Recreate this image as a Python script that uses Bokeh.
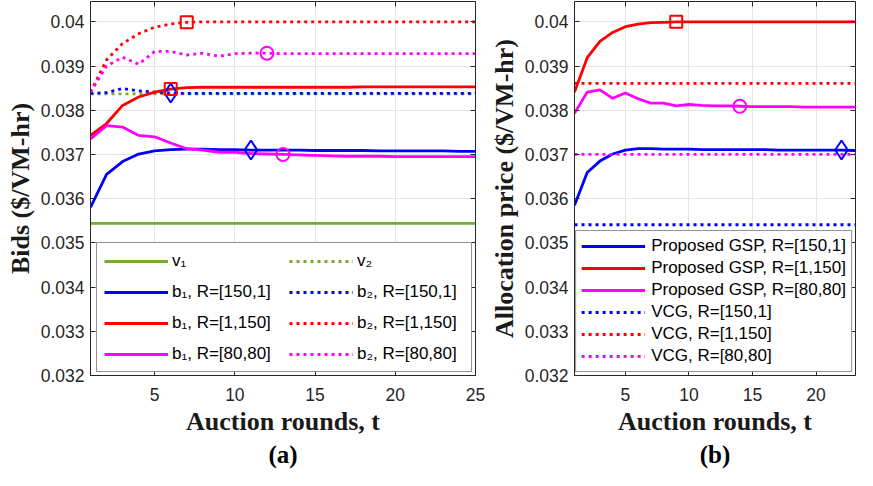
from bokeh.plotting import figure
from bokeh.models import Range1d, FixedTicker, LinearAxis, Legend, LegendItem, Title
from bokeh.layouts import row
from bokeh.embed import file_html
from bokeh.resources import INLINE

# ---------------- data ----------------
rounds = [1, 2, 3, 4, 5, 6, 7, 8, 9, 10, 11, 12, 13, 14, 15, 16, 17, 18, 19, 20, 21, 22, 23, 24, 25]

# panel (a): bids
v1 = [0.03544, 0.03544, 0.03544, 0.03544, 0.03544, 0.03544, 0.03544, 0.03544, 0.03544, 0.03544,
      0.03544, 0.03544, 0.03544, 0.03544, 0.03544, 0.03544, 0.03544, 0.03544, 0.03544, 0.03544,
      0.03544, 0.03544, 0.03544, 0.03544, 0.03544]
v2 = [0.03837, 0.03837, 0.03837, 0.03837, 0.03837, 0.03837, 0.03837, 0.03837, 0.03837, 0.03837,
      0.03837, 0.03837, 0.03837, 0.03837, 0.03837, 0.03837, 0.03837, 0.03837, 0.03837, 0.03837,
      0.03837, 0.03837, 0.03837, 0.03837, 0.03837]
b1_150_1 = [0.03580, 0.03655, 0.03684, 0.03701, 0.03708, 0.03711, 0.03712, 0.03712, 0.03711, 0.03711,
            0.03710, 0.03710, 0.03710, 0.03710, 0.03709, 0.03709, 0.03709, 0.03709, 0.03708, 0.03708,
            0.03708, 0.03708, 0.03708, 0.03707, 0.03707]
b2_150_1 = [0.03838, 0.03840, 0.03849, 0.03844, 0.03841, 0.03839, 0.03838, 0.03838, 0.03838, 0.03838,
            0.03838, 0.03838, 0.03838, 0.03838, 0.03838, 0.03838, 0.03838, 0.03838, 0.03838, 0.03838,
            0.03838, 0.03838, 0.03838, 0.03838, 0.03838]
b1_1_150 = [0.03743, 0.03770, 0.03811, 0.03830, 0.03841, 0.03848, 0.03851, 0.03852, 0.03852, 0.03852,
            0.03852, 0.03852, 0.03852, 0.03852, 0.03852, 0.03852, 0.03852, 0.03853, 0.03853, 0.03853,
            0.03853, 0.03853, 0.03853, 0.03853, 0.03853]
b2_1_150 = [0.03841, 0.03914, 0.03951, 0.03973, 0.03988, 0.03995, 0.03999, 0.04000, 0.04000, 0.04000,
            0.04000, 0.04000, 0.04000, 0.04000, 0.04000, 0.04000, 0.04000, 0.04000, 0.04000, 0.04000,
            0.04000, 0.04000, 0.04000, 0.04000, 0.04000]
b1_80_80 = [0.03735, 0.03765, 0.03762, 0.03743, 0.03740, 0.03726, 0.03713, 0.03710, 0.03705, 0.03705,
            0.03702, 0.03701, 0.03700, 0.03699, 0.03698, 0.03697, 0.03696, 0.03696, 0.03696, 0.03695,
            0.03695, 0.03695, 0.03695, 0.03695, 0.03695]
b2_80_80 = [0.03841, 0.03900, 0.03920, 0.03904, 0.03933, 0.03933, 0.03925, 0.03929, 0.03922, 0.03928,
            0.03929, 0.03929, 0.03928, 0.03928, 0.03928, 0.03928, 0.03928, 0.03928, 0.03928, 0.03928,
            0.03928, 0.03928, 0.03928, 0.03928, 0.03928]

# panel (b): allocation price
gsp_150_1 = [0.03585, 0.03659, 0.03685, 0.03701, 0.03710, 0.03713, 0.03713, 0.03712, 0.03712, 0.03712,
             0.03711, 0.03711, 0.03711, 0.03711, 0.03711, 0.03711, 0.03710, 0.03710, 0.03710, 0.03710,
             0.03710, 0.03710, 0.03709, 0.03708, 0.03708]
gsp_1_150 = [0.03841, 0.03919, 0.03956, 0.03976, 0.03989, 0.03995, 0.03998, 0.03999, 0.04000, 0.04000,
             0.04000, 0.04000, 0.04000, 0.04000, 0.04000, 0.04000, 0.04000, 0.04000, 0.04000, 0.04000,
             0.04000, 0.04000, 0.04000, 0.04000, 0.04000]
gsp_80_80 = [0.03793, 0.03841, 0.03846, 0.03827, 0.03839, 0.03826, 0.03816, 0.03816, 0.03810, 0.03813,
             0.03811, 0.03810, 0.03810, 0.03809, 0.03808, 0.03808, 0.03808, 0.03808, 0.03807, 0.03807,
             0.03807, 0.03807, 0.03807, 0.03807, 0.03807]
vcg_150_1 = [0.03541, 0.03541, 0.03541, 0.03541, 0.03541, 0.03541, 0.03541, 0.03541, 0.03541, 0.03541,
             0.03541, 0.03541, 0.03541, 0.03541, 0.03541, 0.03541, 0.03541, 0.03541, 0.03541, 0.03541,
             0.03541, 0.03541, 0.03541, 0.03541, 0.03541]
vcg_1_150 = [0.03861, 0.03861, 0.03861, 0.03861, 0.03861, 0.03861, 0.03861, 0.03861, 0.03861, 0.03861,
             0.03861, 0.03861, 0.03861, 0.03861, 0.03861, 0.03861, 0.03861, 0.03861, 0.03861, 0.03861,
             0.03861, 0.03861, 0.03861, 0.03861, 0.03861]
vcg_80_80 = [0.03700, 0.03700, 0.03700, 0.03700, 0.03700, 0.03700, 0.03700, 0.03700, 0.03700, 0.03700,
             0.03700, 0.03700, 0.03700, 0.03700, 0.03700, 0.03700, 0.03700, 0.03700, 0.03700, 0.03700,
             0.03700, 0.03700, 0.03700, 0.03700, 0.03700]

# rounds at which a single marker is drawn on a series
mark_a = {"b2_1_150": 7, "b2_80_80": 12, "b2_150_1": 6, "b1_1_150": 6, "b1_150_1": 11, "b1_80_80": 13}
mark_b = {"gsp_1_150": 9, "gsp_80_80": 14, "gsp_150_1": 22}

y_ticks = [0.032, 0.033, 0.034, 0.035, 0.036, 0.037, 0.038, 0.039, 0.04]
y_tick_labels = ["0.032", "0.033", "0.034", "0.035", "0.036", "0.037", "0.038", "0.039", "0.04"]
x_ticks_a = [5, 10, 15, 20, 25]
x_tick_labels_a = ["5", "10", "15", "20", "25"]
x_ticks_b = [5, 10, 15, 20]
x_tick_labels_b = ["5", "10", "15", "20"]

# ---------------- style ----------------
GREEN = "#77AC30"
BLUE = "#0000FF"
RED = "#FF0000"
MAG = "#FF00FF"
AX = "#262626"
DOT = "3 4"
LW = 2.8
SANS = "Liberation Sans"
SERIF = "Liberation Serif"


def make_fig(width, mbl, mbr, xend, xticks, xlabels, ylabel, sub):
    p = figure(width=width, height=470, output_backend="svg", toolbar_location=None,
               x_range=Range1d(1, xend), y_range=Range1d(0.032, 0.04046),
               min_border_left=mbl, min_border_right=mbr, min_border_top=1, min_border_bottom=95,
               background_fill_color="white", border_fill_color="white",
               outline_line_color=AX, outline_line_width=1)
    p.xaxis.ticker = FixedTicker(ticks=xticks)
    p.xgrid.ticker = FixedTicker(ticks=xticks)
    p.yaxis.ticker = FixedTicker(ticks=y_ticks)
    p.ygrid.ticker = FixedTicker(ticks=y_ticks)
    p.xaxis.major_label_overrides = dict(zip(xticks, xlabels))
    p.yaxis.major_label_overrides = dict(zip(y_ticks, y_tick_labels))
    for ax in (p.xaxis[0], p.yaxis[0]):
        ax.major_label_text_font = SANS
        ax.major_label_text_font_size = "17.5px"
        ax.major_label_text_color = AX
        ax.axis_line_color = AX
        ax.major_tick_line_color = AX
        ax.major_tick_in = 5
        ax.major_tick_out = 0
        ax.minor_tick_line_color = None
        ax.axis_label_text_font = SERIF
        ax.axis_label_text_font_style = "bold"
        ax.axis_label_text_font_size = "26px"
        ax.axis_label_text_color = "#1a1a1a"
    p.xaxis.major_label_standoff = 12
    p.yaxis.major_label_standoff = 6
    p.xaxis.axis_label = "Auction rounds, t"
    p.xaxis.axis_label_standoff = 3
    p.yaxis.axis_label = ylabel
    p.yaxis.axis_label_standoff = 3
    for g in (p.xgrid[0], p.ygrid[0]):
        g.grid_line_color = "#e6e6e6"
        g.grid_line_width = 1
    top = LinearAxis(ticker=FixedTicker(ticks=xticks), major_label_text_font_size="0px",
                     major_label_text_color=None,
                     major_label_standoff=0, major_tick_in=5, major_tick_out=0,
                     major_tick_line_color=AX, minor_tick_line_color=None, axis_line_color=None)
    p.add_layout(top, "above")
    right = LinearAxis(ticker=FixedTicker(ticks=y_ticks), major_label_text_font_size="0px",
                       major_label_text_color=None,
                       major_label_standoff=0, major_tick_in=5, major_tick_out=0,
                       major_tick_line_color=AX, minor_tick_line_color=None, axis_line_color=None)
    p.add_layout(right, "right")
    p.add_layout(Title(text=sub, align="center", text_font=SERIF, text_font_style="bold",
                       text_font_size="25px", text_color="#000000", standoff=0), "below")
    return p


def marker(p, y, rnd, kind, color):
    i = rounds.index(rnd)
    size = {"square": 12, "circle": 13, "diamond": 19}[kind]
    p.scatter([rounds[i]], [y[i]], marker=kind, size=size, line_color=color,
              fill_color=None, line_width=2)


# ---------------- panel (a) ----------------
pa = make_fig(486, 90, 11, 25, x_ticks_a, x_tick_labels_a, "Bids ($/VM-hr)", "(a)")
r_v1 = pa.line(rounds, v1, line_color=GREEN, line_width=LW)
r_v2 = pa.line(rounds, v2, line_color=GREEN, line_width=LW, line_dash=DOT)
r_b1a = pa.line(rounds, b1_150_1, line_color=BLUE, line_width=LW)
r_b2a = pa.line(rounds, b2_150_1, line_color=BLUE, line_width=LW, line_dash=DOT)
r_b1b = pa.line(rounds, b1_1_150, line_color=RED, line_width=LW)
r_b2b = pa.line(rounds, b2_1_150, line_color=RED, line_width=LW, line_dash=DOT)
r_b1c = pa.line(rounds, b1_80_80, line_color=MAG, line_width=LW)
r_b2c = pa.line(rounds, b2_80_80, line_color=MAG, line_width=LW, line_dash=DOT)
marker(pa, b1_150_1, mark_a["b1_150_1"], "diamond", BLUE)
marker(pa, b2_150_1, mark_a["b2_150_1"], "diamond", BLUE)
marker(pa, b1_1_150, mark_a["b1_1_150"], "square", RED)
marker(pa, b2_1_150, mark_a["b2_1_150"], "square", RED)
marker(pa, b1_80_80, mark_a["b1_80_80"], "circle", MAG)
marker(pa, b2_80_80, mark_a["b2_80_80"], "circle", MAG)

leg_a = Legend(items=[
    LegendItem(label="v\u2081", renderers=[r_v1]),
    LegendItem(label="b\u2081, R=[150,1]", renderers=[r_b1a]),
    LegendItem(label="b\u2081, R=[1,150]", renderers=[r_b1b]),
    LegendItem(label="b\u2081, R=[80,80]", renderers=[r_b1c]),
    LegendItem(label="v\u2082", renderers=[r_v2]),
    LegendItem(label="b\u2082, R=[150,1]", renderers=[r_b2a]),
    LegendItem(label="b\u2082, R=[1,150]", renderers=[r_b2b]),
    LegendItem(label="b\u2082, R=[80,80]", renderers=[r_b2c]),
], location="bottom_right", ncols=2)
pa.add_layout(leg_a)

# ---------------- panel (b) ----------------
pb = make_fig(371, 82, 2, 23.1, x_ticks_b, x_tick_labels_b, "Allocation price ($/VM-hr)", "(b)")
r_g1 = pb.line(rounds, gsp_150_1, line_color=BLUE, line_width=LW)
r_g2 = pb.line(rounds, gsp_1_150, line_color=RED, line_width=LW)
r_g3 = pb.line(rounds, gsp_80_80, line_color=MAG, line_width=LW)
r_c1 = pb.line(rounds, vcg_150_1, line_color=BLUE, line_width=LW, line_dash=DOT)
r_c2 = pb.line(rounds, vcg_1_150, line_color=RED, line_width=LW, line_dash=DOT)
r_c3 = pb.line(rounds, vcg_80_80, line_color=MAG, line_width=LW, line_dash=DOT)
marker(pb, gsp_1_150, mark_b["gsp_1_150"], "square", RED)
marker(pb, gsp_80_80, mark_b["gsp_80_80"], "circle", MAG)
marker(pb, gsp_150_1, mark_b["gsp_150_1"], "diamond", BLUE)

leg_b = Legend(items=[
    LegendItem(label="Proposed GSP, R=[150,1]", renderers=[r_g1]),
    LegendItem(label="Proposed GSP, R=[1,150]", renderers=[r_g2]),
    LegendItem(label="Proposed GSP, R=[80,80]", renderers=[r_g3]),
    LegendItem(label="VCG, R=[150,1]", renderers=[r_c1]),
    LegendItem(label="VCG, R=[1,150]", renderers=[r_c2]),
    LegendItem(label="VCG, R=[80,80]", renderers=[r_c3]),
], location="bottom_right")
pb.add_layout(leg_b)

for leg, sp, pad, lw, lh, so in ((leg_a, 10, 7, 107, 21, 4), (leg_b, 2, 5, 0, 20, 6)):
    leg.label_text_font = SANS
    leg.label_text_font_size = "17px"
    leg.label_text_color = "#000000"
    leg.glyph_width = 64
    leg.glyph_height = 20
    leg.label_height = lh
    leg.label_standoff = so
    leg.spacing = sp
    leg.padding = pad
    leg.margin = 3
    if lw:
        leg.label_width = lw
    leg.border_line_color = AX
    leg.border_line_width = 1
    leg.background_fill_color = "white"
    leg.background_fill_alpha = 1.0

layout = row(pa, pb)
open("out.html", "w").write(file_html(layout, INLINE))
